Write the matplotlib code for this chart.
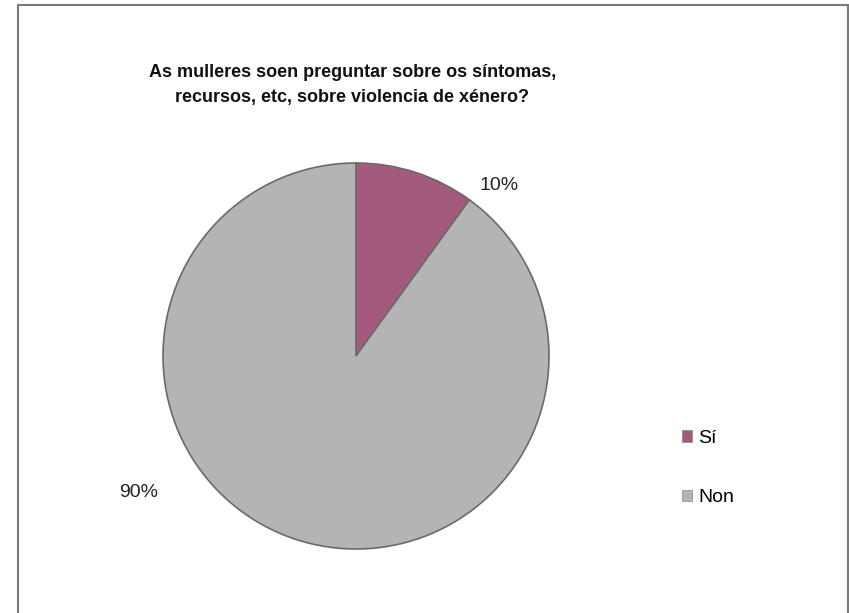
import numpy as np
import matplotlib
matplotlib.use("Agg")
import matplotlib.pyplot as plt
from matplotlib.patches import Patch, Rectangle

plt.rcParams['font.family'] = ['Liberation Sans', 'DejaVu Sans']

title = "As mulleres soen preguntar sobre os síntomas,\nrecursos, etc, sobre violencia de xénero?"
categories = ["Sí", "Non"]
values = [10, 90]
pct_labels = ["10%", "90%"]
colors = ["#a35a7c", "#b4b4b4"]

# where Excel put the labels: (angle in degrees, distance in radii)
label_pos = [(50, 1.15), (212, 1.33)]

fig = plt.figure(figsize=(8.49, 6.13), dpi=100)

# pie centre at about (356, 356) px, radius 193 px
cx, cy, r = 356, 356, 193
W, H = 849, 613
ax = fig.add_axes([(cx - r) / W, (H - cy - r) / H, 2 * r / W, 2 * r / H])

wedges, _ = ax.pie(values, colors=colors, startangle=90, counterclock=False,
                   wedgeprops=dict(edgecolor="#6a6a6a", linewidth=1.2))
ax.set_xlim(-1, 1)
ax.set_ylim(-1, 1)
ax.axis('off')

for lab, (ang, dist) in zip(pct_labels, label_pos):
    a = np.deg2rad(ang)
    ax.text(dist * np.cos(a), dist * np.sin(a), lab, ha='center', va='center',
            fontsize=14, color='#222222', clip_on=False)

fig.text(0.415, 1 - 85 / H, title, ha='center', va='center', fontsize=13,
         fontweight='bold', color='#111111', linespacing=1.6)

handles = [Patch(facecolor=c, edgecolor='#888888', linewidth=0.5) for c in colors]
fig.legend(handles, categories, loc='center left', bbox_to_anchor=(664 / W, 1 - 468 / H),
           frameon=False, fontsize=14, handlelength=0.55, handleheight=0.55,
           handletextpad=0.3, labelspacing=2.2)

fig.add_artist(Rectangle((18 / W, -0.01), (848 - 18) / W, 1.01 - 5 / H,
                         transform=fig.transFigure, fill=False,
                         edgecolor='#7a7a7a', linewidth=1.5))

fig.savefig("out.png", dpi=100)
